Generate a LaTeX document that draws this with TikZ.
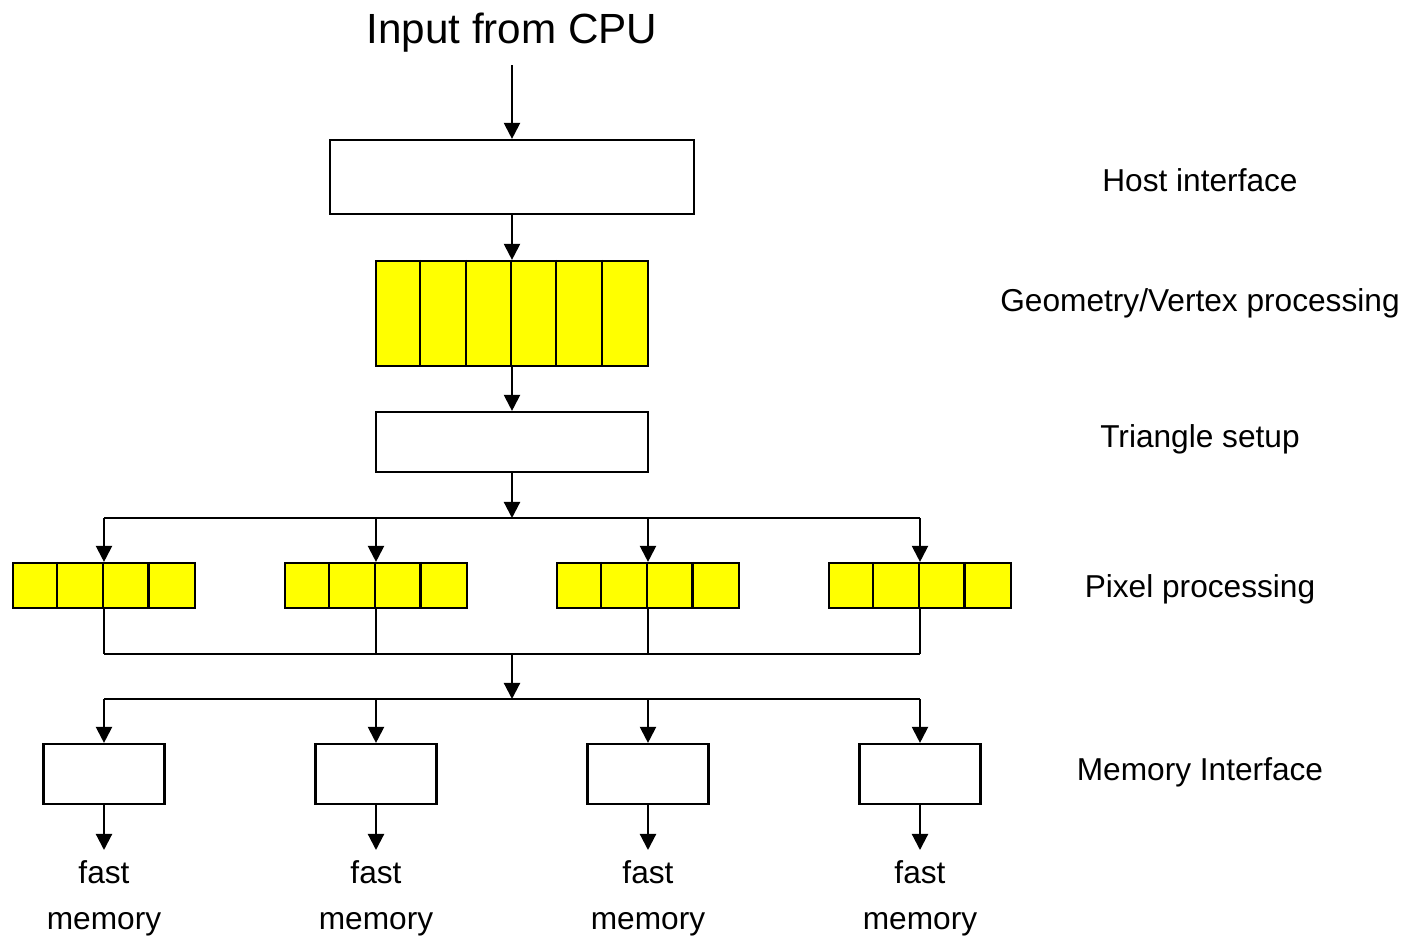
\documentclass[tikz,border=0pt]{standalone}
\usepackage{fontspec}
\setmainfont{Liberation Sans}
\usepackage{tikz}
\usetikzlibrary{arrows.meta}
\definecolor{cellyellow}{RGB}{255,255,0}

\tikzset{
  box/.style={draw,line width=0.6pt,fill=white,inner sep=0pt},
  ybox/.style={box,fill=cellyellow},
  lbl/.style={font=\fontsize{9}{11}\selectfont,inner sep=0pt},
  arr/.style={-{Triangle[width=0.16cm,length=0.16cm]},line width=0.6pt},
  wire/.style={line width=0.6pt}
}

\begin{document}
\begin{tikzpicture}[x=0.01cm,y=-0.01cm]
  \useasboundingbox (0,0) rectangle (1408,939);
  % stages
  \node[lbl,font=\fontsize{12}{14}\selectfont,anchor=base] (cpu) at (512,43) {Input from CPU};
  \node[box,minimum width=3.63cm,minimum height=0.74cm] (host) at (512,177) {};
  \node[ybox,minimum width=2.72cm,minimum height=1.05cm] (geo) at (512,313.5) {};
  \foreach \i in {1,...,5}
    \draw[wire] ([xshift=\i*0.4533cm]geo.north west) -- ([xshift=\i*0.4533cm]geo.south west);
  \node[box,minimum width=2.72cm,minimum height=0.60cm] (tri) at (512,442) {};
  \coordinate (split) at (512,518);
  \coordinate (merge) at (512,654);
  \coordinate (dist) at (512,699);
  \foreach \n/\x in {1/104,2/376,3/648,4/920} {
    \node[ybox,minimum width=1.82cm,minimum height=0.45cm] (pix\n) at (\x,585.5) {};
    \foreach \i in {1,2,3}
      \draw[wire] ([xshift=\i*0.455cm]pix\n.north west) -- ([xshift=\i*0.455cm]pix\n.south west);
    \node[box,minimum width=1.21cm,minimum height=0.60cm] (mif\n) at (\x,774) {};
    \node[lbl,anchor=north,inner sep=0.1cm] (fast\n) at (\x,850) {fast};
    \node[lbl,anchor=base] (memw\n) at ([yshift=-0.46cm]fast\n.base) {memory};
  }

  % labels
  \node[lbl,anchor=base] (lhost) at (1200,191) {Host interface};
  \node[lbl,anchor=base] (lgeo) at (1200,311) {Geometry/Vertex processing};
  \node[lbl,anchor=base] (ltri) at (1200,447) {Triangle setup};
  \node[lbl,anchor=base] (lpix) at (1200,597) {Pixel processing};
  \node[lbl,anchor=base] (lmem) at (1200,780) {Memory Interface};

  % connectors
  \path[arr]
    ([yshift=-0.22cm]cpu.base) edge (host)
    (host) edge (geo)
    (geo) edge (tri)
    (tri) edge (split)
    (merge) edge (dist);
  \draw[wire] (split -| pix1) -- (split -| pix4);
  \draw[wire] (merge -| pix1) -- (merge -| pix4);
  \draw[wire] (dist -| mif1) -- (dist -| mif4);
  \foreach \n in {1,...,4} {
    \path[arr]
      (split -| pix\n) edge (pix\n)
      (dist -| mif\n) edge (mif\n)
      (mif\n) edge (fast\n);
    \draw[wire] (pix\n.south) -- (merge -| pix\n);
  }
\end{tikzpicture}
\end{document}
